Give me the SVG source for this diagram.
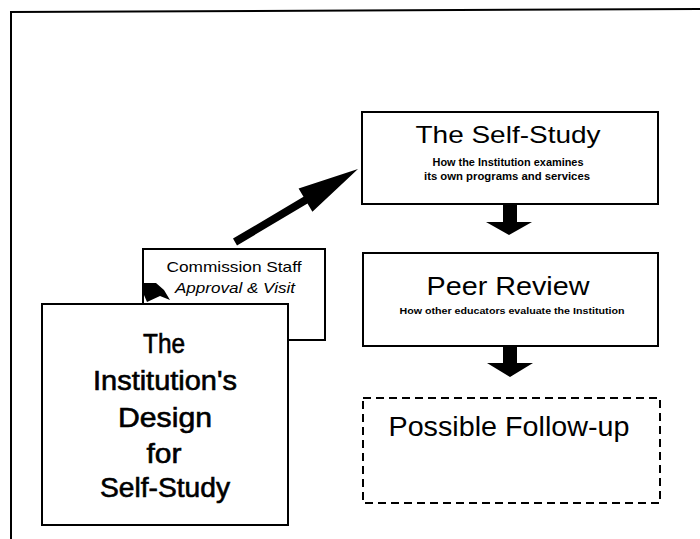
<svg xmlns="http://www.w3.org/2000/svg" width="700" height="539" viewBox="0 0 700 539">
<style>
.box{fill:#fff;stroke:#000;stroke-width:2}
.dash{fill:#fff;stroke:#000;stroke-width:2;stroke-dasharray:8 5}
.t{font-family:"Liberation Sans",Arial,sans-serif;fill:#000;text-anchor:middle}
.sub{font-family:"Liberation Sans",Arial,sans-serif;fill:#000;text-anchor:middle;font-weight:bold}
.big{font-family:"Liberation Sans",Arial,sans-serif;fill:#000;stroke:#000;stroke-width:0.6;text-anchor:middle;font-size:27px}
.arr{fill:#000;stroke:none}
</style>
<rect width="700" height="539" fill="#fff"/>
<g id="frame">
<line x1="10" y1="12" x2="700" y2="9" stroke="#000" stroke-width="2"/>
<line x1="11" y1="11" x2="11" y2="539" stroke="#000" stroke-width="2"/>
</g>
<g id="commission">
<rect class="box" x="143" y="249" width="182" height="91"/>
<text class="t" x="234" y="272" font-size="15" textLength="135" lengthAdjust="spacingAndGlyphs">Commission Staff</text>
<text class="t" x="235" y="293" font-size="15" font-style="italic" textLength="120" lengthAdjust="spacingAndGlyphs">Approval &amp; Visit</text>
</g>
<g id="institution">
<rect class="box" x="42" y="304" width="246" height="221"/>
<text class="big" x="164" y="353" textLength="42" lengthAdjust="spacingAndGlyphs">The</text>
<text class="big" x="165" y="390" textLength="144" lengthAdjust="spacingAndGlyphs">Institution's</text>
<text class="big" x="165" y="427" textLength="94" lengthAdjust="spacingAndGlyphs">Design</text>
<text class="big" x="164" y="463" textLength="35" lengthAdjust="spacingAndGlyphs">for</text>
<text class="big" x="165" y="497" textLength="130" lengthAdjust="spacingAndGlyphs">Self-Study</text>
</g>
<g id="selfstudy">
<rect class="box" x="362" y="112" width="296" height="92"/>
<text class="t" x="508" y="143" font-size="24" textLength="185" lengthAdjust="spacingAndGlyphs">The Self-Study</text>
<text class="sub" x="508" y="166" font-size="10" textLength="151" lengthAdjust="spacingAndGlyphs">How the Institution examines</text>
<text class="sub" x="507" y="180" font-size="10" textLength="166" lengthAdjust="spacingAndGlyphs">its own programs and services</text>
</g>
<g id="peerreview">
<rect class="box" x="363" y="253" width="295" height="93"/>
<text class="t" x="508" y="295" font-size="26" textLength="163" lengthAdjust="spacingAndGlyphs">Peer Review</text>
<text class="sub" x="512" y="314" font-size="9" textLength="225" lengthAdjust="spacingAndGlyphs">How other educators evaluate the Institution</text>
</g>
<g id="followup">
<rect class="dash" x="363" y="398" width="297" height="105"/>
<text class="t" x="509" y="436" font-size="27" textLength="241" lengthAdjust="spacingAndGlyphs">Possible Follow-up</text>
</g>
<g id="connectors">
<polygon class="arr" points="233,238.6 303.5,196.8 298.6,188.6 358,169 312.4,211.8 307.5,203.6 237,245.4"/>
<polygon class="arr" points="503,204 517,204 517,222 532,222 509,235 486,222 503,222"/>
<polygon class="arr" points="503,346 517,346 517,363 533,363 510,377 487,363 503,363"/>
<polygon class="arr" points="144,283 156,283 164,290 170,300 160,296 147,302 144,295"/>
</g>
</svg>
